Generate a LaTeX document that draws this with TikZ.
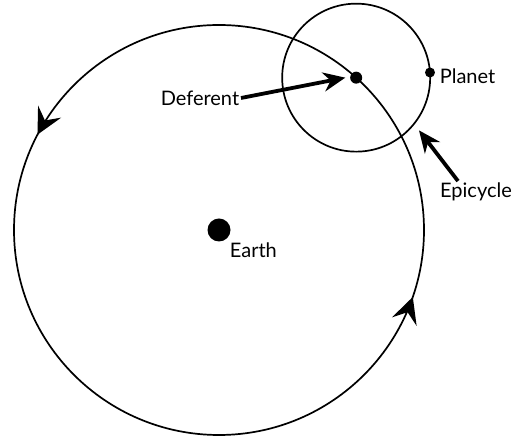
\documentclass[tikz,border=0pt]{standalone}
\usepackage{fontspec}
\setmainfont{Lato}
\usetikzlibrary{arrows.meta,decorations.markings,calc}

\begin{document}
\begin{tikzpicture}[x=1pt, y=1pt, line width=1.7pt,
  lbl/.style={font=\fontsize{20}{22}\selectfont, inner sep=1pt},
  dot/.style={circle, fill=black, inner sep=0pt, minimum size=#1},
  pointer/.style={line width=3.8pt, -{Stealth[length=22pt, width=19pt, inset=7pt]}},
  orbitarrows/.style={postaction={decorate}, decoration={markings,
    mark=at position 0.423 with {\arrow{Stealth[length=26pt, width=26pt, inset=10pt]}},
    mark=at position 0.947 with {\arrow{Stealth[length=26pt, width=26pt, inset=10pt]}}}}]
  \useasboundingbox (0,0) rectangle (530,438);

  % Deferent and epicycle
  \node[dot=23pt] (earth) at (219,208) {};
  \draw[orbitarrows] (earth.center) circle[radius=205];
  \coordinate (epi) at ($(earth.center)+(48:205)$);
  \draw (epi) circle[radius=74];
  \node[dot=12pt] (centre) at (epi) {};
  \node[dot=10pt] (planet) at ($(epi)+(4:74)$) {};

  % Labels
  \node[lbl, anchor=north west] (earthlbl) at (228,197) {Earth};
  \node[lbl, anchor=west] (planetlbl) at (438,362) {Planet};
  \node[lbl, anchor=east] (deflbl) at (241,340) {Deferent};
  \node[lbl] (epilbl) at (476,246) {Epicycle};

  % Pointers
  \coordinate (epitip) at ($(epi)+(-40:82)$);
  \draw[pointer] (deflbl.east) -- ([xshift=-4pt]centre.west);
  \draw[pointer] ([xshift=-18pt]epilbl.north) -- (epitip);
\end{tikzpicture}
\end{document}
